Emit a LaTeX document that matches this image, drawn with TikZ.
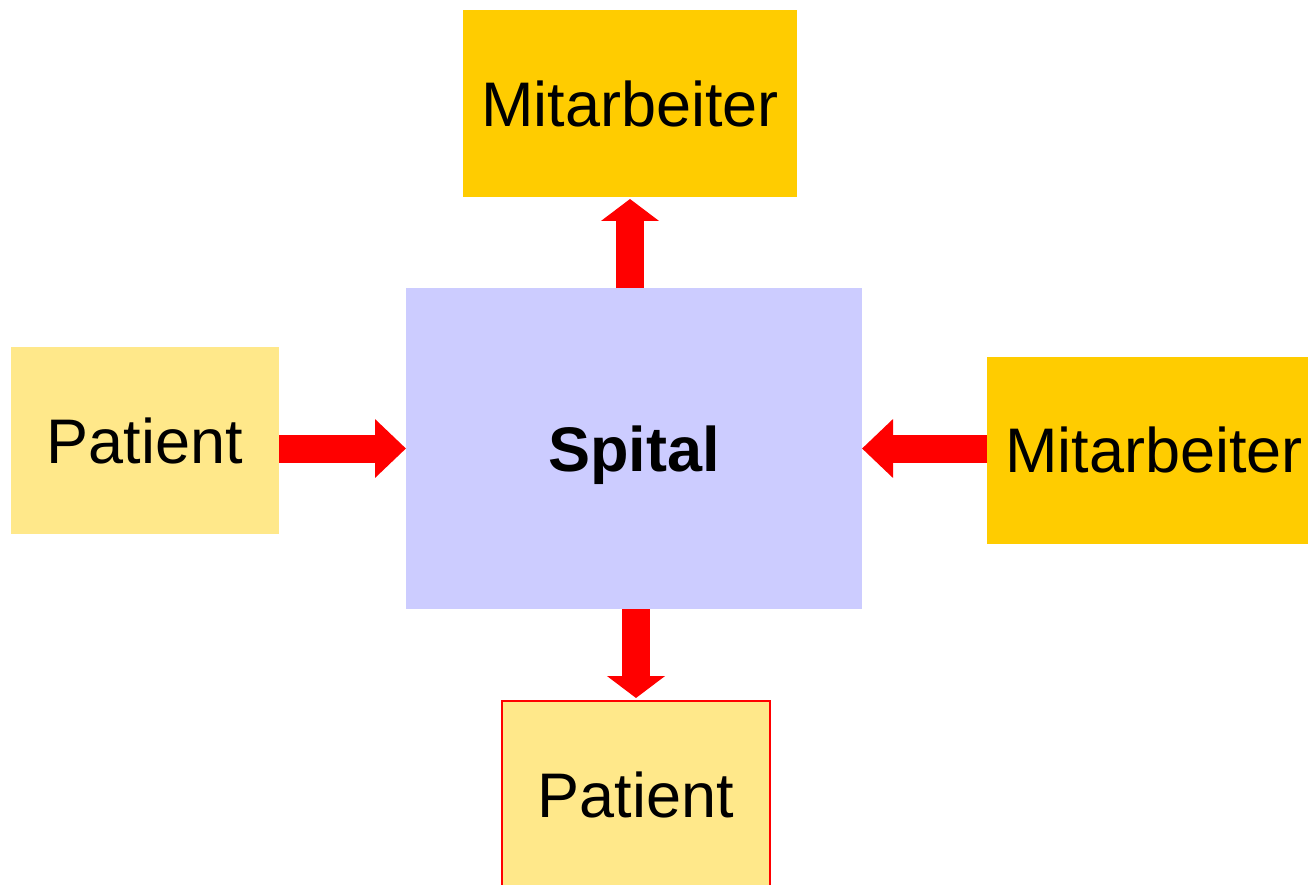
\documentclass[tikz,border=0pt]{standalone}
\usepackage{fontspec}
\setmainfont{Liberation Sans}
\usetikzlibrary{arrows.meta, positioning}
\definecolor{staff}{HTML}{FFCC00}
\definecolor{patient}{HTML}{FFE88A}
\definecolor{hospital}{HTML}{CCCCFF}

\begin{document}
\begin{tikzpicture}[x=1pt,y=-1pt,
	hflow/.style={-{Triangle[length=31pt,width=57pt]},draw=red,line width=28pt},
	vflow/.style={-{Triangle[length=22pt,width=57pt]},draw=red,line width=28pt}]
	\tikzset{box/.style={rectangle,inner sep=0pt,outer sep=0pt,minimum height=187pt,font=\fontsize{63}{75}\selectfont}}
	\useasboundingbox (0,0) rectangle (1308,885);
	\node[box,fill=hospital,minimum width=456pt,minimum height=321pt,text depth=0pt,font=\fontsize{63}{75}\selectfont\bfseries] (spital) at (634,448.5) {Spital};
	\node[box,fill=staff,minimum width=334pt] (top) at (630,103.5) {Mitarbeiter};
	\node[box,fill=patient,minimum width=268pt] (left) at (145,440.5) {Patient};
	\node[box,fill=staff,minimum width=334pt] (right) at (1154,450) {Mitarbeiter};
	\node[box,fill=patient,draw=red,line width=1.5pt,minimum width=268pt] (bottom) at (636,794.5) {Patient};
	\path
		(left.east |- spital.west)
			edge[hflow] (spital.west)
		(right.west |- spital.east)
			edge[hflow] (spital.east)
		(spital.north -| top.south)
			edge[vflow,shorten >=2pt] (top.south)
		(spital.south -| bottom.north)
			edge[vflow,shorten >=3pt] (bottom.north);
\end{tikzpicture}
\end{document}
